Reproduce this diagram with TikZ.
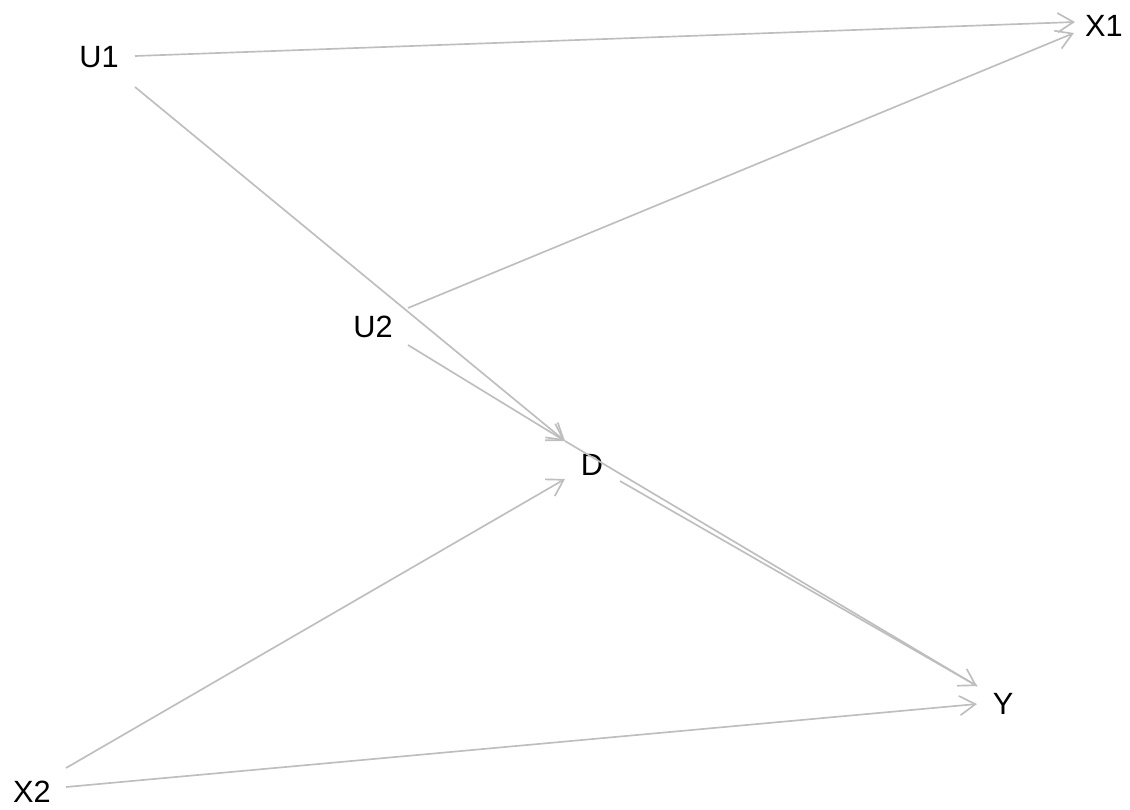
\documentclass[tikz,border=0pt]{standalone}
\usepackage{fontspec}
\setmainfont{Liberation Sans}
\usetikzlibrary{arrows.meta}
\definecolor{edgegray}{RGB}{190,190,190}
\tikzset{
  lbl/.style={inner sep=0pt, font=\fontsize{17.5}{20}\selectfont, text=black},
  edge/.style={draw=edgegray, line width=0.95pt, -{Straight Barb[length=9pt,width=11pt,line width=0.95pt]}},
  plain/.style={draw=edgegray, line width=0.95pt}
}
\begin{document}
\begin{tikzpicture}[x=0.02cm, y=-0.02cm]
\useasboundingbox (0,0) rectangle (1130,809);
% labels
\node[lbl] (U1) at (99,57) {U1};
\node[lbl] (X1) at (1104,26) {X1};
\node[lbl] (U2) at (373,327) {U2};
\node[lbl] (D) at (592,465) {D};
\node[lbl] (Y) at (1003,704) {Y};
\node[lbl] (X2) at (32,792) {X2};
% edge end points
\coordinate (U1s1) at (135,56);
\coordinate (U1s2) at (135,87);
\coordinate (X1t1) at (1075,22);
\coordinate (X1t2) at (1074,33);
\coordinate (U2s1) at (408,308);
\coordinate (U2s2) at (408,345);
\coordinate (Dt1) at (565,441);
\coordinate (Dt2) at (565,479);
\coordinate (Ds1) at (620,481);
\coordinate (Yt1) at (977,686);
\coordinate (Yt2) at (977,704);
\coordinate (X2s1) at (66,768);
\coordinate (X2s2) at (66,787);
% edges
\draw[edge] (U1s1) -- (X1t1);
\draw[edge] (U2s1) -- (X1t2);
\draw[edge] (U1s2) -- (Dt1);
\draw[edge] (U2s2) -- (Dt1);
\draw[plain] (Dt1) -- (Yt1);
\draw[edge] (Ds1) -- (Yt1);
\draw[edge] (X2s1) -- (Dt2);
\draw[edge] (X2s2) -- (Yt2);
\end{tikzpicture}
\end{document}
